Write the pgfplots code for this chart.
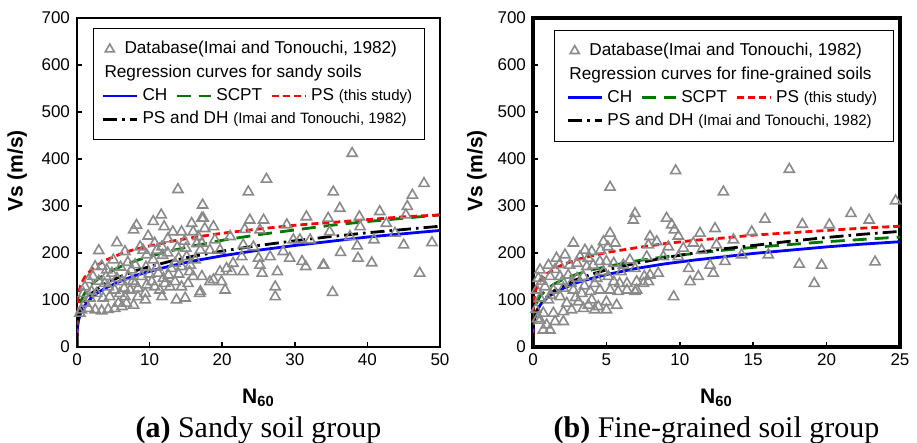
\documentclass[border=0pt]{standalone}
\usepackage{fontspec}
\setmainfont{Liberation Sans}
\newfontfamily\capfont{Liberation Serif}
\usepackage{pgfplots}
\pgfplotsset{compat=1.18}
\definecolor{dbgray}{HTML}{8A8A8A}
\definecolor{chblue}{HTML}{0000FF}
\definecolor{scptgreen}{HTML}{007800}
\definecolor{psred}{HTML}{FF0000}

\newcommand{\smallref}[1]{{\fontsize{7.5}{9}\selectfont #1}}

\pgfplotsset{
  db/.style={only marks, mark=triangle, mark size=2.9pt, color=dbgray, mark options={line width=0.8pt}},
  ch/.style={chblue, line width=1.4pt},
  scpt/.style={scptgreen, line width=1.4pt, dash pattern=on 7pt off 4pt},
  ps/.style={psred, line width=1.4pt, dash pattern=on 3.5pt off 2pt},
  psdh/.style={black, line width=1.4pt, dash pattern=on 7pt off 2.5pt on 1.3pt off 2.5pt},
  vsplot/.style={
    scale only axis,
    height=164.5pt,
    ymin=0, ymax=700, ytick={0,100,...,700},
    enlargelimits=false,
    tick align=inside, tick pos=left,
    major tick length=2.5pt,
    tick style={black, line width=0.8pt},
    tick label style={font=\fontsize{8.5}{10}\selectfont},
    /pgf/number format/assume math mode=true,
    xlabel={\textbf{N}\textsubscript{\textbf{60}}},
    ylabel={\textbf{Vs (m/s)}},
    label style={font=\fontsize{10.5}{12}\selectfont\bfseries},
    xlabel style={at={(axis description cs:0.5,-0.155)}, anchor=center},
    legend cell align=left,
    legend columns=3,
    legend style={anchor=north west, draw=black, line width=0.6pt, fill=white,
      font=\fontsize{8.6}{10}\selectfont, inner xsep=4pt, inner ysep=4.5pt,
      nodes={inner sep=2pt},
      /tikz/every even column/.append style={column sep=2pt}},
  },
}

\newcommand{\dblegend}[1]{%
  \addlegendimage{db, legend image code/.code={\draw[dbgray, line width=0.8pt, mark=triangle, mark size=2.6pt] plot coordinates {(0.12cm,0cm)};}}
  \addlegendentry{\rlap{\hspace*{-9pt}Database(Imai and Tonouchi, 1982)}}
  \addlegendimage{empty legend}\addlegendentry{}
  \addlegendimage{empty legend}\addlegendentry{}
  \addlegendimage{empty legend}\addlegendentry{\rlap{\hspace*{-19pt}Regression curves for #1}}
  \addlegendimage{empty legend}\addlegendentry{}
  \addlegendimage{empty legend}\addlegendentry{}
  \addlegendimage{ch}\addlegendentry{CH}
  \addlegendimage{scpt}\addlegendentry{SCPT}
  \addlegendimage{ps}\addlegendentry{PS \smallref{(this study)}}
  \addlegendimage{psdh}\addlegendentry{\rlap{PS and DH \smallref{(Imai and Tonouchi, 1982)}}}
  \addlegendimage{empty legend}\addlegendentry{}
  \addlegendimage{empty legend}\addlegendentry{}
}

\begin{document}
\begin{tikzpicture}
% (a) sandy soils
\begin{axis}[vsplot, name=L, width=181.5pt,
    xmin=0, xmax=50, xtick={0,10,...,50},
    axis line style={line width=1pt},
    ylabel style={at={(axis description cs:-0.165,0.535)}, anchor=center},
    legend style={at={(0.044,0.97)}}]
\dblegend{sandy soils}
\addplot[db, forget plot] coordinates {
(13.9,335) (17.3,302) (11.6,281) (7.8,249) (8.2,259) (10.5,267) (12,256) (13.2,245) (14.4,245) (15.8,263)
(17.2,274) (16,245) (16.7,235) (5.5,222) (3.0,205) (6.6,203) (8.7,213) (9.1,206) (9.6,196) (10.7,221)
(11,206) (11.7,213) (2.5,171) (3.4,172) (4.1,164) (1.6,143) (2.2,150) (4.8,157) (5.5,146) (6.2,139)
(7.1,150) (7.5,164) (4.3,128) (5.2,121) (5.9,114) (6.6,107) (7.3,121) (8,135) (8.4,125) (8.9,150)
(9.6,132) (10.3,139) (9.4,114) (8.4,107) (11.2,157) (11.9,146) (12.6,153) (13,167) (13.5,178) (14,189)
(14.4,171) (15.1,192) (15.6,174) (16.3,185) (17,206) (10.7,128) (11.4,121) (12.1,135) (12.8,128) (13.5,139)
(14.4,128) (15.3,135) (16,150) (17,118) (13.7,100) (14.9,104) (11.7,107) (9.4,100) (0.6,79) (1.6,82)
(2.5,79) (3.4,77) (4.3,80) (5.2,82) (6.2,86) (1.1,93) (1.8,104) (0.9,114) (3.6,104) (4.5,107)
(2.7,114) (1.1,128) (6.8,93) (5.7,93) (7.8,89) (9.8,236) (12.5,230) (14.8,225) (7,180) (8,175)
(9.5,170) (10.5,185) (11.8,195) (6,170) (5,185) (4,150) (3,140) (2,118) (12.5,200) (13.8,212)
(15,210) (16.5,220) (6.5,125) (7.7,140) (10,155) (11,170) (14,155) (15.5,160) (3.8,135) (0.4,72)
(26.1,357) (23.6,330) (17.4,274) (17.6,252) (18.8,256) (23.8,270) (25.7,270) (23.1,250) (25.2,249) (28.9,260)
(31.6,277) (34.6,274) (21.1,235) (19,228) (17.2,221) (18.3,206) (19.7,206) (22.9,217) (24.3,213) (26.6,192)
(28.4,203) (29.3,189) (30.7,228) (32.1,228) (25,189) (25.2,174) (22.7,192) (21.5,178) (20.6,167) (21.3,160)
(22.9,160) (25.5,157) (27.6,160) (31,182) (31.5,171) (34,174) (19.7,160) (18.8,143) (19.9,139) (20.4,121)
(18.3,139) (16.9,114) (17.2,150) (27.3,128) (27.3,107) (29.8,228)
(37.9,412) (35.3,330) (36.2,295) (34.8,245) (38.9,277) (41.7,288) (39,256) (42.6,263) (45.5,299) (45.3,281)
(46.2,323) (47.8,348) (40.9,228) (38.6,215) (45,217) (48.9,222) (33.9,174) (36.3,201) (38.7,189) (40.6,179)
(35.2,116) (47.2,157) (43.8,242) (37.6,235)
};
\addplot[ch, forget plot] coordinates {(0,0) (0.005,21) (0.05,39) (0.2,56) (0.5,72) (1,87) (2,105) (3,117) (4,126) (6,140) (8,152) (10,161) (13,173) (16,183) (20,194) (25,206) (30,216) (35,225) (40,234) (45,241) (50,248)};
\addplot[scpt, forget plot] coordinates {(0,0) (0.005,33) (0.05,56) (0.2,77) (0.5,96) (1,113) (2,133) (3,146) (4,156) (6,171) (8,183) (10,193) (13,205) (16,215) (20,227) (25,239) (30,249) (35,259) (40,267) (45,274) (50,281)};
\addplot[ps, forget plot] coordinates {(0,0) (0.005,61) (0.05,89) (0.2,113) (0.5,131) (1,147) (2,165) (3,176) (4,185) (6,198) (8,208) (10,215) (13,225) (16,233) (20,242) (25,251) (30,259) (35,265) (40,271) (45,277) (50,281)};
\addplot[psdh, forget plot] coordinates {(0,0) (0.005,25) (0.05,45) (0.2,64) (0.5,80) (1,96) (2,114) (3,126) (4,136) (6,150) (8,162) (10,171) (13,183) (16,193) (20,204) (25,216) (30,226) (35,235) (40,243) (45,250) (50,257)};
\end{axis}

% (b) fine-grained soils
\begin{axis}[vsplot, name=R, width=183.5pt, at={(228pt,0)}, anchor=south west,
    xmin=0, xmax=25, xtick={0,5,...,25},
    axis line style={line width=1.6pt},
    ylabel style={at={(axis description cs:-0.153,0.535)}, anchor=center},
    legend style={at={(0.057,0.965)}, inner xsep=6pt}]
\dblegend{fine-grained soils}
\addplot[db, forget plot] coordinates {
(5.25,340) (6.95,284) (6.83,270) (5.25,242) (4.8,224) (5.1,213) (5.6,221) (4.6,206) (2.75,221) (3.54,206)
(4.0,203) (3.2,192) (3.77,189) (2.18,196) (1.6,189) (1.05,174) (0.48,164) (0.36,146) (2.5,174) (3.0,178)
(3.66,171) (4.1,174) (4.56,182) (5.0,182) (5.5,178) (6.15,174) (6.6,185) (1.16,150) (1.84,150) (2.4,153)
(3.0,146) (3.43,150) (4.34,146) (5.13,150) (5.5,139) (5.9,135) (0.25,121) (0.82,128) (1.39,121) (2.07,125)
(2.75,121) (3.32,114) (3.9,118) (4.56,121) (5.25,121) (5.8,118) (6.4,121) (0.48,104) (1.05,100) (1.84,107)
(2.3,93) (3.1,96) (3.77,89) (4.45,86) (5.0,96) (5.7,89) (0.7,72) (1.39,72) (2.07,75) (2.63,79)
(3.43,82) (4.2,79) (5.0,79) (0.48,57) (0.93,47) (1.5,54) (2.07,54) (0.7,36) (1.16,36) (6.4,135)
(7.06,121) (7.06,139) (0.2,80) (0.3,60) (1.5,165) (2,140) (2.6,135) (3.5,130) (4.2,135) (4.8,160)
(1.2,110) (2.9,105) (4,100) (6,160) (0.6,140) (1.8,175)
(9.72,375) (12.97,330) (9.1,274) (9.45,260) (9.63,249) (9.9,236) (7.97,235) (8.43,224) (7.86,217) (11.38,242)
(12.4,252) (12.5,217) (10.92,221) (9.22,213) (7.75,192) (8.88,192) (9.9,192) (10.24,210) (11.49,206) (13.65,228)
(14.9,245) (15.8,272) (6.95,167) (7.58,150) (7.97,153) (8.53,157) (7.86,139) (7.52,135) (6.95,118) (10.7,139)
(11.26,150) (12.06,174) (12.28,157) (13.08,182) (14.21,196) (16.03,196) (9.58,107) (10.6,167)
(17.46,378) (24.7,311) (21.66,284) (22.9,270) (18.35,261) (20.19,260) (18.14,176) (19.66,174) (19.16,135) (23.3,181)
};
\addplot[ch, forget plot] coordinates {(0,0) (0.005,31) (0.05,53) (0.2,73) (0.5,90) (1,106) (1.5,116) (2,124) (3,137) (4,146) (5,154) (7,167) (9,177) (11,185) (13,192) (15,199) (17.5,206) (20,213) (22.5,219) (25,224)};
\addplot[scpt, forget plot] coordinates {(0,0) (0.005,44) (0.05,70) (0.2,91) (0.5,109) (1,125) (1.5,135) (2,143) (3,155) (4,164) (5,171) (7,183) (9,192) (11,199) (13,206) (15,212) (17.5,218) (20,224) (22.5,229) (25,234)};
\addplot[ps, forget plot] coordinates {(0,0) (0.005,70) (0.05,99) (0.2,123) (0.5,141) (1,157) (1.5,167) (2,175) (3,186) (4,194) (5,201) (7,211) (9,220) (11,227) (13,232) (15,238) (17.5,243) (20,248) (22.5,253) (25,257)};
\addplot[psdh, forget plot] coordinates {(0,0) (0.005,29) (0.05,51) (0.2,73) (0.5,92) (1,109) (1.5,121) (2,130) (3,144) (4,155) (5,164) (7,178) (9,190) (11,200) (13,209) (15,216) (17.5,225) (20,233) (22.5,240) (25,246)};
\end{axis}

\node[font=\capfont\fontsize{15}{17}\selectfont, anchor=center] at ([yshift=-41.5pt]L.south) {\textbf{(a)} Sandy soil group};
\node[font=\capfont\fontsize{15}{17}\selectfont, anchor=center] at ([yshift=-41.5pt]R.south) {\textbf{(b)} Fine-grained soil group};

\pgfresetboundingbox
\path (-38.5pt,-48pt) rectangle (420pt,173.5pt);
\end{tikzpicture}
\end{document}
